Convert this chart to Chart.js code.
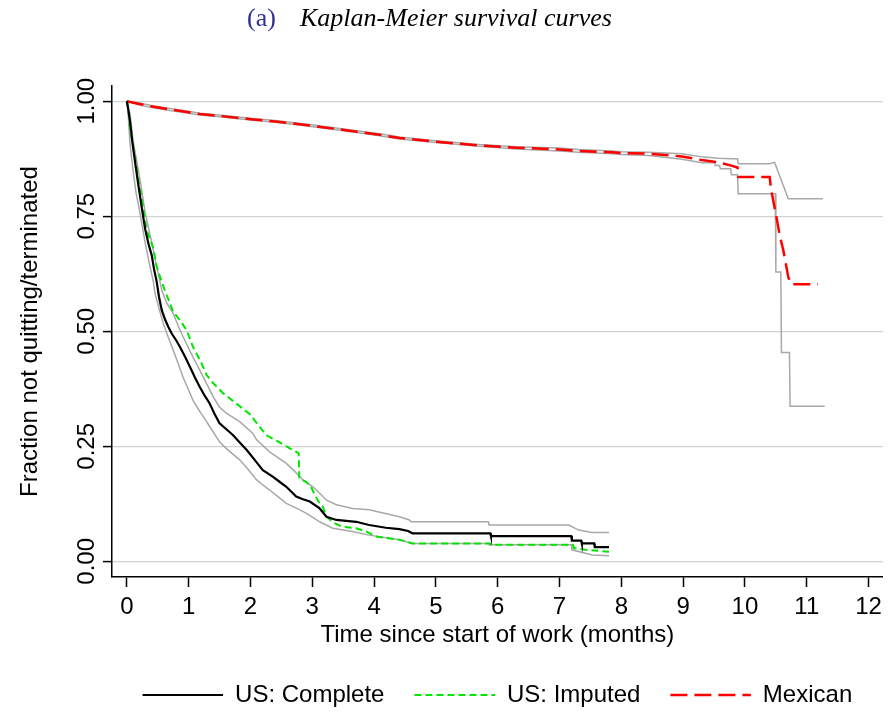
<!DOCTYPE html>
<html>
<head>
    <title>Kaplan-Meier survival curves</title>
    <meta charset="UTF-8">
    <script src="https://cdn.jsdelivr.net/npm/chart.js@4.4.1/dist/chart.umd.min.js"></script>
    <style>
        body { margin: 0; background: #fff; }
        #wrap { width: 888px; height: 713px; position: relative; }
    </style>
</head>
<body>
    <div id="wrap"><canvas id="myChart"></canvas></div>

    <script>
        // tick labels
        var xTicks = [0, 1, 2, 3, 4, 5, 6, 7, 8, 9, 10, 11, 12];
        var yTicks = [0, 0.25, 0.5, 0.75, 1.0];

        // US: Complete (months -> fraction still working)
        var completeT = [0, 0.02, 0.053, 0.09, 0.134, 0.187, 0.24, 0.295, 0.35, 0.403, 0.44, 0.484, 0.52, 0.565, 0.62, 0.67, 0.726, 0.80, 0.86, 0.94, 1.02, 1.10, 1.18, 1.26, 1.34, 1.42, 1.50, 1.61, 1.72, 1.83, 1.94, 2.10, 2.20, 2.36, 2.47, 2.58, 2.74, 2.85, 2.96, 3.12, 3.23, 3.39, 3.55, 3.71, 3.92, 4.19, 4.41, 4.55, 4.62, 5.88, 5.89, 7.19, 7.20, 7.35, 7.36, 7.56, 7.57, 7.80];
        var completeS = [1.0, 0.985, 0.955, 0.91, 0.867, 0.817, 0.77, 0.723, 0.69, 0.665, 0.635, 0.607, 0.575, 0.546, 0.525, 0.51, 0.495, 0.48, 0.466, 0.445, 0.423, 0.40, 0.379, 0.36, 0.343, 0.32, 0.30, 0.287, 0.274, 0.258, 0.242, 0.215, 0.198, 0.184, 0.173, 0.162, 0.141, 0.135, 0.130, 0.115, 0.097, 0.090, 0.088, 0.086, 0.079, 0.073, 0.070, 0.066, 0.061, 0.061, 0.055, 0.055, 0.045, 0.045, 0.039, 0.039, 0.031, 0.031];
        var completeUpT = [0, 0.02, 0.053, 0.1, 0.2, 0.3, 0.4, 0.5, 0.565, 0.65, 0.75, 0.83, 0.91, 1.07, 1.24, 1.40, 1.50, 1.61, 1.83, 2.04, 2.10, 2.31, 2.58, 2.72, 2.85, 3.01, 3.12, 3.23, 3.39, 3.65, 3.92, 4.41, 4.57, 4.60, 5.85, 5.86, 7.15, 7.31, 7.52, 7.80];
        var completeUpS = [1.0, 0.99, 0.97, 0.915, 0.84, 0.755, 0.695, 0.63, 0.589, 0.56, 0.539, 0.512, 0.488, 0.444, 0.40, 0.357, 0.335, 0.322, 0.303, 0.278, 0.264, 0.238, 0.213, 0.195, 0.177, 0.162, 0.148, 0.133, 0.123, 0.115, 0.112, 0.097, 0.09, 0.086, 0.086, 0.079, 0.079, 0.068, 0.0625, 0.0625];
        var completeLoT = [0, 0.02, 0.05, 0.1, 0.15, 0.215, 0.30, 0.36, 0.43, 0.456, 0.52, 0.59, 0.67, 0.75, 0.83, 0.91, 0.99, 1.07, 1.16, 1.24, 1.34, 1.45, 1.50, 1.61, 1.83, 1.96, 2.10, 2.20, 2.31, 2.45, 2.58, 2.75, 2.90, 3.12, 3.33, 3.65, 3.92, 4.41, 4.62, 5.85, 5.86, 7.19, 7.20, 7.53, 7.80];
        var completeLoS = [1.0, 0.975, 0.91, 0.85, 0.80, 0.755, 0.69, 0.65, 0.607, 0.582, 0.55, 0.517, 0.487, 0.459, 0.43, 0.40, 0.375, 0.35, 0.33, 0.314, 0.293, 0.27, 0.26, 0.245, 0.22, 0.20, 0.177, 0.166, 0.155, 0.14, 0.126, 0.115, 0.105, 0.086, 0.072, 0.065, 0.057, 0.047, 0.039, 0.039, 0.036, 0.036, 0.025, 0.014, 0.012];

        // US: Imputed
        var imputedT = [0, 0.026, 0.053, 0.106, 0.15, 0.187, 0.25, 0.32, 0.43, 0.484, 0.565, 0.645, 0.70, 0.75, 0.86, 0.97, 1.07, 1.21, 1.29, 1.40, 1.56, 1.77, 1.99, 2.15, 2.26, 2.45, 2.63, 2.78, 2.79, 2.90, 2.98, 3.04, 3.10, 3.17, 3.23, 3.36, 3.49, 3.71, 3.87, 4.03, 4.41, 4.62, 5.88, 5.89, 7.22, 7.23, 7.42, 7.80];
        var imputedS = [1.0, 0.98, 0.94, 0.90, 0.865, 0.83, 0.78, 0.72, 0.68, 0.64, 0.607, 0.578, 0.56, 0.542, 0.524, 0.502, 0.466, 0.43, 0.405, 0.387, 0.365, 0.343, 0.32, 0.292, 0.274, 0.26, 0.246, 0.235, 0.18, 0.173, 0.162, 0.145, 0.13, 0.119, 0.097, 0.083, 0.075, 0.072, 0.065, 0.054, 0.047, 0.039, 0.039, 0.036, 0.036, 0.029, 0.025, 0.021];

        // Mexican
        var mexT = [0, 0.2, 0.38, 0.7, 1.0, 1.18, 1.5, 2.0, 2.4, 2.79, 3.2, 3.6, 4.09, 4.41, 5.0, 5.7, 6.3, 7.0, 7.31, 7.85, 8.0, 8.44, 8.98, 9.3, 9.57, 9.78, 9.88, 9.89, 10.40, 10.42, 10.47, 10.51, 10.56, 10.62, 10.67, 10.70, 10.75, 11.18];
        var mexS = [1.0, 0.994, 0.989, 0.982, 0.976, 0.972, 0.968, 0.961, 0.956, 0.950, 0.943, 0.936, 0.927, 0.920, 0.912, 0.904, 0.899, 0.895, 0.892, 0.889, 0.887, 0.886, 0.880, 0.872, 0.867, 0.860, 0.856, 0.835, 0.835, 0.81, 0.775, 0.748, 0.71, 0.676, 0.64, 0.618, 0.602, 0.602];
        var mexUpT = [0, 0.2, 0.38, 0.7, 1.0, 1.18, 1.5, 2.0, 2.4, 2.79, 3.2, 3.6, 4.09, 4.41, 5.0, 5.7, 6.3, 7.0, 7.31, 7.85, 8.0, 8.44, 8.98, 9.3, 9.57, 9.78, 9.88, 9.89, 10.40, 10.48, 10.70, 11.26];
        var mexUpS = [1.0, 0.996, 0.991, 0.984, 0.978, 0.974, 0.970, 0.963, 0.958, 0.952, 0.945, 0.938, 0.929, 0.922, 0.914, 0.906, 0.901, 0.898, 0.895, 0.892, 0.890, 0.889, 0.886, 0.879, 0.876, 0.875, 0.875, 0.864, 0.864, 0.867, 0.788, 0.788];
        var mexLoT = [0, 0.2, 0.38, 0.7, 1.0, 1.18, 1.5, 2.0, 2.4, 2.79, 3.2, 3.6, 4.09, 4.41, 5.0, 5.7, 6.3, 7.0, 7.31, 7.85, 8.0, 8.44, 8.98, 9.3, 9.51, 9.52, 9.59, 9.60, 9.77, 9.78, 9.88, 9.89, 10.49, 10.50, 10.58, 10.59, 10.72, 10.73, 11.29];
        var mexLoS = [1.0, 0.992, 0.987, 0.980, 0.974, 0.970, 0.966, 0.959, 0.954, 0.948, 0.941, 0.934, 0.925, 0.918, 0.910, 0.902, 0.896, 0.892, 0.889, 0.886, 0.884, 0.882, 0.874, 0.866, 0.866, 0.86, 0.86, 0.853, 0.853, 0.84, 0.84, 0.799, 0.799, 0.629, 0.629, 0.454, 0.454, 0.337, 0.337];

        function pts(t, s) {
            return t.map(function (v, i) { return { x: v, y: s[i] }; });
        }

        function line(label, t, s, color, width, dash) {
            return {
                label: label,
                data: pts(t, s),
                borderColor: color,
                backgroundColor: color,
                borderWidth: width,
                borderDash: dash,
                pointRadius: 0,
                pointStyle: 'line',
                tension: 0,
                fill: false
            };
        }

        var ciColor = '#a8a8a8';
        var sansFont = '"Liberation Sans", Arial, sans-serif';

        var textPlugin = {
            id: 'texts',
            afterDraw: function (chart) {
                var ctx = chart.ctx, y = chart.scales.y;
                ctx.save();
                ctx.fillStyle = '#000';
                ctx.font = '24px ' + sansFont;
                ctx.textAlign = 'center';
                ctx.textBaseline = 'middle';
                yTicks.forEach(function (v) {
                    ctx.save();
                    ctx.translate(y.right - 25, y.getPixelForValue(v));
                    ctx.rotate(-Math.PI / 2);
                    ctx.fillText(v.toFixed(2), 0, 0);
                    ctx.restore();
                });
                // panel heading
                ctx.textAlign = 'left';
                ctx.textBaseline = 'alphabetic';
                ctx.fillStyle = '#2e3192';
                ctx.font = '26px "Liberation Serif", serif';
                ctx.fillText('(a)', 247, 26);
                ctx.fillStyle = '#000';
                ctx.font = 'italic 26px "Liberation Serif", serif';
                ctx.fillText('Kaplan-Meier survival curves', 300, 26);
                ctx.restore();
            }
        };

        var ctx = document.getElementById('myChart');
        var myChart = new Chart(ctx, {
            type: 'line',
            data: {
                datasets: [
                    line('US: Complete', completeT, completeS, '#000000', 2.2, []),
                    line('US: Imputed', imputedT, imputedS, '#00e600', 2, [7, 4]),
                    line('Mexican', mexT, mexS, '#ff0000', 2.5, [17, 7]),
                    line('ci1', completeUpT, completeUpS, ciColor, 1.5, []),
                    line('ci2', completeLoT, completeLoS, ciColor, 1.5, []),
                    line('ci3', mexUpT, mexUpS, ciColor, 1.5, []),
                    line('ci4', mexLoT, mexLoS, ciColor, 1.5, [])
                ]
            },
            options: {
                responsive: true,
                maintainAspectRatio: false,
                animation: false,
                layout: { padding: { top: 86, right: 3, bottom: -4, left: 0 } },
                scales: {
                    x: {
                        type: 'linear',
                        min: -0.24,
                        max: 12.23,
                        afterBuildTicks: function (s) { s.ticks = xTicks.map(function (v) { return { value: v }; }); },
                        afterFit: function (s) { s.height = 76; },
                        border: { color: '#000', width: 1.5 },
                        grid: { drawOnChartArea: false, tickLength: 10, tickColor: '#000', tickWidth: 1.5 },
                        ticks: { color: '#000', padding: 6, maxRotation: 0, font: { family: sansFont, size: 24 } },
                        title: { display: true, text: 'Time since start of work (months)', color: '#000', padding: { top: 0, bottom: 3 }, font: { family: sansFont, size: 24 } }
                    },
                    y: {
                        type: 'linear',
                        min: -0.034,
                        max: 1.033,
                        afterBuildTicks: function (s) { s.ticks = yTicks.map(function (v) { return { value: v }; }); },
                        afterFit: function (s) { s.width = 112; },
                        border: { color: '#000', width: 1.5 },
                        grid: { color: '#d2d2d2', lineWidth: 1.2, tickLength: 9, tickColor: '#000', tickWidth: 1.5 },
                        ticks: { display: false },
                        title: { display: true, text: 'Fraction not quitting/terminated', color: '#000', padding: { top: 16, bottom: 0 }, font: { family: sansFont, size: 24 } }
                    }
                },
                plugins: {
                    legend: {
                        position: 'bottom',
                        fullSize: false,
                        labels: {
                            usePointStyle: true,
                            pointStyleWidth: 80.5,
                            padding: 30,
                            color: '#000',
                            font: { family: sansFont, size: 24 },
                            generateLabels: function (chart) {
                                var items = Chart.defaults.plugins.legend.labels.generateLabels(chart);
                                items.forEach(function (it) {
                                    var ds = chart.data.datasets[it.datasetIndex];
                                    it.lineDash = ds.borderDash;
                                    it.lineWidth = ds.borderWidth;
                                    it.strokeStyle = ds.borderColor;
                                    it.pointStyle = 'line';
                                });
                                return items;
                            },
                            filter: function (item) { return item.text.indexOf('ci') !== 0; }
                        }
                    },
                    tooltip: { enabled: false }
                }
            },
            plugins: [textPlugin]
        });
    </script>
</body>
</html>
